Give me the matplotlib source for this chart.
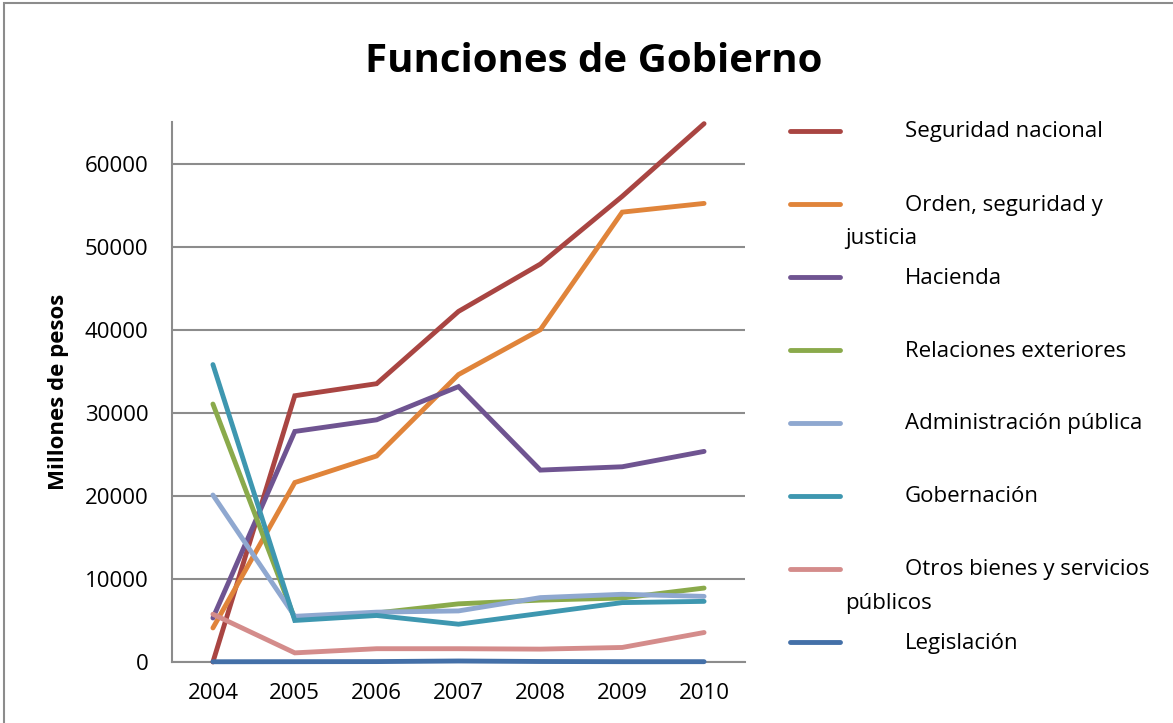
import matplotlib
matplotlib.use("Agg")
import matplotlib.pyplot as plt
from matplotlib.lines import Line2D
from matplotlib.patches import Rectangle

plt.rcParams['font.family'] = ['Open Sans', 'DejaVu Sans']

years = ["2004", "2005", "2006", "2007", "2008", "2009", "2010"]

seguridad_nacional = [0, 32050, 33500, 42200, 47900, 56050, 64800]
orden_seguridad_justicia = [4100, 21600, 24800, 34600, 40000, 54150, 55200]
hacienda = [5300, 27750, 29150, 33150, 23100, 23500, 25350]
relaciones_exteriores = [31050, 5200, 5900, 7000, 7450, 7700, 8900]
administracion_publica = [20100, 5500, 6000, 6150, 7750, 8150, 7900]
gobernacion = [35800, 5000, 5600, 4550, 5850, 7150, 7300]
otros_bienes_servicios = [5750, 1100, 1600, 1600, 1550, 1750, 3550]
legislacion = [30, 40, 50, 120, 60, 40, 40]

series_labels = [
    ("Seguridad nacional", None),
    ("Orden, seguridad y", "justicia"),
    ("Hacienda", None),
    ("Relaciones exteriores", None),
    ("Administración pública", None),
    ("Gobernación", None),
    ("Otros bienes y servicios", "públicos"),
    ("Legislación", None),
]
series_values = [
    seguridad_nacional, orden_seguridad_justicia, hacienda,
    relaciones_exteriores, administracion_publica, gobernacion,
    otros_bienes_servicios, legislacion,
]
colors = ["#A94542", "#E0843A", "#6F5491", "#8AAA4B",
          "#8FA8D0", "#3E97B0", "#D48C8B", "#4470A8"]

y_ticks = [0, 10000, 20000, 30000, 40000, 50000, 60000]

W, H = 1173, 723
fig = plt.figure(figsize=(W / 100, H / 100), dpi=100)

# outer chart frame
fig.add_artist(Rectangle((4 / W, -0.05), 1.2, (H - 3) / H + 0.05,
                         transform=fig.transFigure, fill=False,
                         edgecolor="#8c8c8c", linewidth=1.5))

ax = fig.add_axes([172 / W, (H - 662) / H, (745 - 172) / W, (662 - 122) / H])
x = list(range(len(years)))

for vals, col in zip(series_values, colors):
    ax.plot(x, vals, color=col, linewidth=3.5, solid_capstyle="round",
            solid_joinstyle="miter", zorder=3, clip_on=False)

ax.set_xlim(-0.5, len(years) - 0.5)
ax.set_ylim(0, 65000)
ax.set_yticks(y_ticks)
ax.set_yticklabels([str(v) for v in y_ticks], fontsize=16)
ax.set_xticks(x)
ax.set_xticklabels(years, fontsize=16)
ax.tick_params(length=0)
ax.tick_params(axis="y", pad=17)
ax.tick_params(axis="x", pad=15)
ax.grid(axis="y", color="#8c8c8c", linewidth=1.5, zorder=1)
ax.set_axisbelow(True)
for s in ("top", "right"):
    ax.spines[s].set_visible(False)
ax.spines["left"].set_color("#8c8c8c")
ax.spines["left"].set_linewidth(1.5)
ax.spines["bottom"].set_color("#8c8c8c")
ax.spines["bottom"].set_linewidth(1.5)

ax.set_ylabel("Millones de pesos", fontsize=16, fontweight="bold", labelpad=11)

fig.text(594 / W, 1 - 62 / H, "Funciones de Gobierno", fontsize=29,
         fontweight="bold", ha="center", va="center")

# legend drawn by hand to keep the wrapped, indented labels
for i, ((first, second), col) in enumerate(zip(series_labels, colors)):
    yy = 131 + i * 73
    fig.add_artist(Line2D([790 / W, 840 / W], [1 - yy / H, 1 - yy / H],
                          transform=fig.transFigure, color=col,
                          linewidth=3.5, solid_capstyle="round"))
    fig.text(905 / W, 1 - (yy + 1) / H, first, fontsize=16, ha="left", va="center")
    if second:
        fig.text(845 / W, 1 - (yy + 35) / H, second, fontsize=16,
                 ha="left", va="center")

fig.savefig("out.png", dpi=100)
